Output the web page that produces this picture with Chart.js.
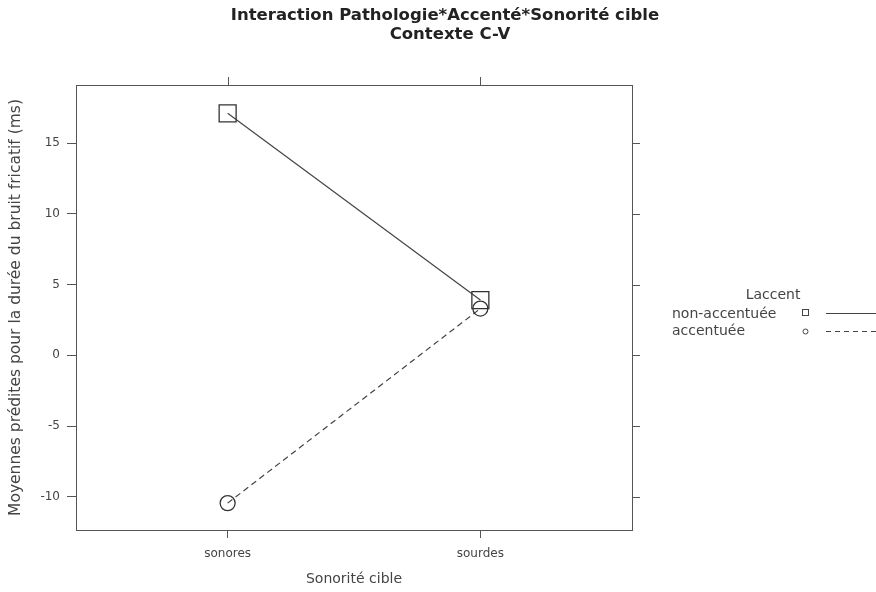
<!DOCTYPE html>
<html>
<head>
<meta charset="utf-8">
<script src="https://cdn.jsdelivr.net/npm/chart.js@4.4.1/dist/chart.umd.min.js"></script>
<style>
  html, body { margin: 0; padding: 0; background: #fff; }
  #wrap { width: 876px; height: 592px; position: relative; }
</style>
</head>
<body>
<div id="wrap"><canvas id="c" width="876" height="592"></canvas></div>
<script>
const categories = ['sonores', 'sourdes'];
const seriesNames = ['non-accentuée', 'accentuée'];
const nonAccentuee = [17.1, 3.9];
const accentuee = [-10.45, 3.3];
const yTicks = [-10, -5, 0, 5, 10, 15];
const titleLines = ['Interaction Pathologie*Accenté*Sonorité cible', 'Contexte C-V'];
const xTitle = 'Sonorité cible';
const yTitle = 'Moyennes prédites pour la durée du bruit fricatif (ms)';
const legendTitle = 'Laccent';

const INK = '#444444';
const FRAME = '#555555';
const FONT = "'DejaVu Sans', Verdana, sans-serif";

const framePlugin = {
  id: 'framePlugin',
  afterDraw(chart) {
    const ctx = chart.ctx;
    const a = chart.chartArea;
    const xs = chart.scales.x, ys = chart.scales.y;
    ctx.save();
    ctx.strokeStyle = FRAME;
    ctx.lineWidth = 1;
    // frame
    ctx.strokeRect(Math.round(a.left) + 0.5, Math.round(a.top) + 0.5,
                   Math.round(a.right - a.left), Math.round(a.bottom - a.top));
    // top ticks
    ctx.beginPath();
    categories.forEach((c, i) => {
      const px = Math.round(xs.getPixelForValue(i + 1)) + 0.5;
      ctx.moveTo(px, a.top); ctx.lineTo(px, a.top - 8);
    });
    // right ticks
    yTicks.forEach(v => {
      const py = Math.round(ys.getPixelForValue(v)) + 0.5;
      ctx.moveTo(a.right, py); ctx.lineTo(a.right + 8, py);
    });
    ctx.stroke();

    // title
    ctx.fillStyle = '#222';
    ctx.textAlign = 'center';
    ctx.textBaseline = 'middle';
    ctx.font = 'bold 16.5px ' + FONT;
    ctx.fillText(titleLines[0], 445, 16);
    ctx.fillText(titleLines[1], 450, 35);

    // legend
    ctx.fillStyle = INK;
    ctx.font = '14px ' + FONT;
    ctx.textAlign = 'center';
    ctx.fillText(legendTitle, 773, 295);
    ctx.textAlign = 'left';
    ctx.fillText(seriesNames[0], 672, 314);
    ctx.fillText(seriesNames[1], 672, 331);
    ctx.strokeStyle = INK;
    ctx.lineWidth = 1;
    ctx.strokeRect(802.5, 309.5, 6, 6);
    ctx.beginPath();
    ctx.arc(805.5, 331.5, 2.5, 0, Math.PI * 2);
    ctx.stroke();
    ctx.beginPath();
    ctx.moveTo(826, 313.5); ctx.lineTo(876, 313.5);
    ctx.stroke();
    ctx.setLineDash([5, 4]);
    ctx.beginPath();
    ctx.moveTo(826, 331.5); ctx.lineTo(876, 331.5);
    ctx.stroke();
    ctx.restore();
  }
};

const ctx = document.getElementById('c').getContext('2d');
new Chart(ctx, {
  type: 'line',
  data: {
    datasets: [
      {
        label: seriesNames[0],
        data: categories.map((c, i) => ({ x: i + 1, y: nonAccentuee[i] })),
        borderColor: INK,
        borderWidth: 1.2,
        backgroundColor: 'rgba(0,0,0,0)',
        pointStyle: 'rect',
        pointRadius: 12,
        pointBorderWidth: 1.3,
        pointBorderColor: '#333',
        pointBackgroundColor: 'rgba(0,0,0,0)',
        tension: 0
      },
      {
        label: seriesNames[1],
        data: categories.map((c, i) => ({ x: i + 1, y: accentuee[i] })),
        borderColor: INK,
        borderWidth: 1.2,
        borderDash: [6, 4],
        backgroundColor: 'rgba(0,0,0,0)',
        pointStyle: 'circle',
        pointRadius: 7.5,
        pointBorderWidth: 1.3,
        pointBorderColor: '#333',
        pointBackgroundColor: 'rgba(0,0,0,0)',
        tension: 0
      }
    ]
  },
  options: {
    responsive: false,
    animation: false,
    layout: { padding: { left: 0, right: 244, top: 85, bottom: 0 } },
    plugins: {
      legend: { display: false },
      title: { display: false },
      tooltip: { enabled: false }
    },
    scales: {
      x: {
        type: 'linear',
        min: 0.4,
        max: 2.6,
        afterBuildTicks: s => { s.ticks = categories.map((c, i) => ({ value: i + 1 })); },
        afterFit: s => { s.height = 62; },
        ticks: {
          callback: v => categories[v - 1] || '',
          color: INK,
          font: { family: FONT, size: 12 },
          padding: 9,
          maxRotation: 0,
          autoSkip: false
        },
        grid: { drawOnChartArea: false, drawTicks: true, tickLength: 8, color: FRAME },
        border: { display: true, color: FRAME },
        title: {
          display: true,
          text: xTitle,
          color: INK,
          font: { family: FONT, size: 14 },
          padding: { top: 3 }
        }
      },
      y: {
        type: 'linear',
        min: -12.35,
        max: 19.1,
        afterBuildTicks: s => { s.ticks = yTicks.map(v => ({ value: v })); },
        afterFit: s => { s.width = 76; },
        ticks: {
          color: INK,
          font: { family: FONT, size: 12 },
          padding: 7
        },
        grid: { drawOnChartArea: false, drawTicks: true, tickLength: 9, color: FRAME },
        border: { display: true, color: FRAME },
        title: {
          display: true,
          text: yTitle,
          color: INK,
          font: { family: FONT, size: 15.5 },
          padding: { top: 7, bottom: 0 }
        }
      }
    }
  },
  plugins: [framePlugin]
});
</script>
</body>
</html>
